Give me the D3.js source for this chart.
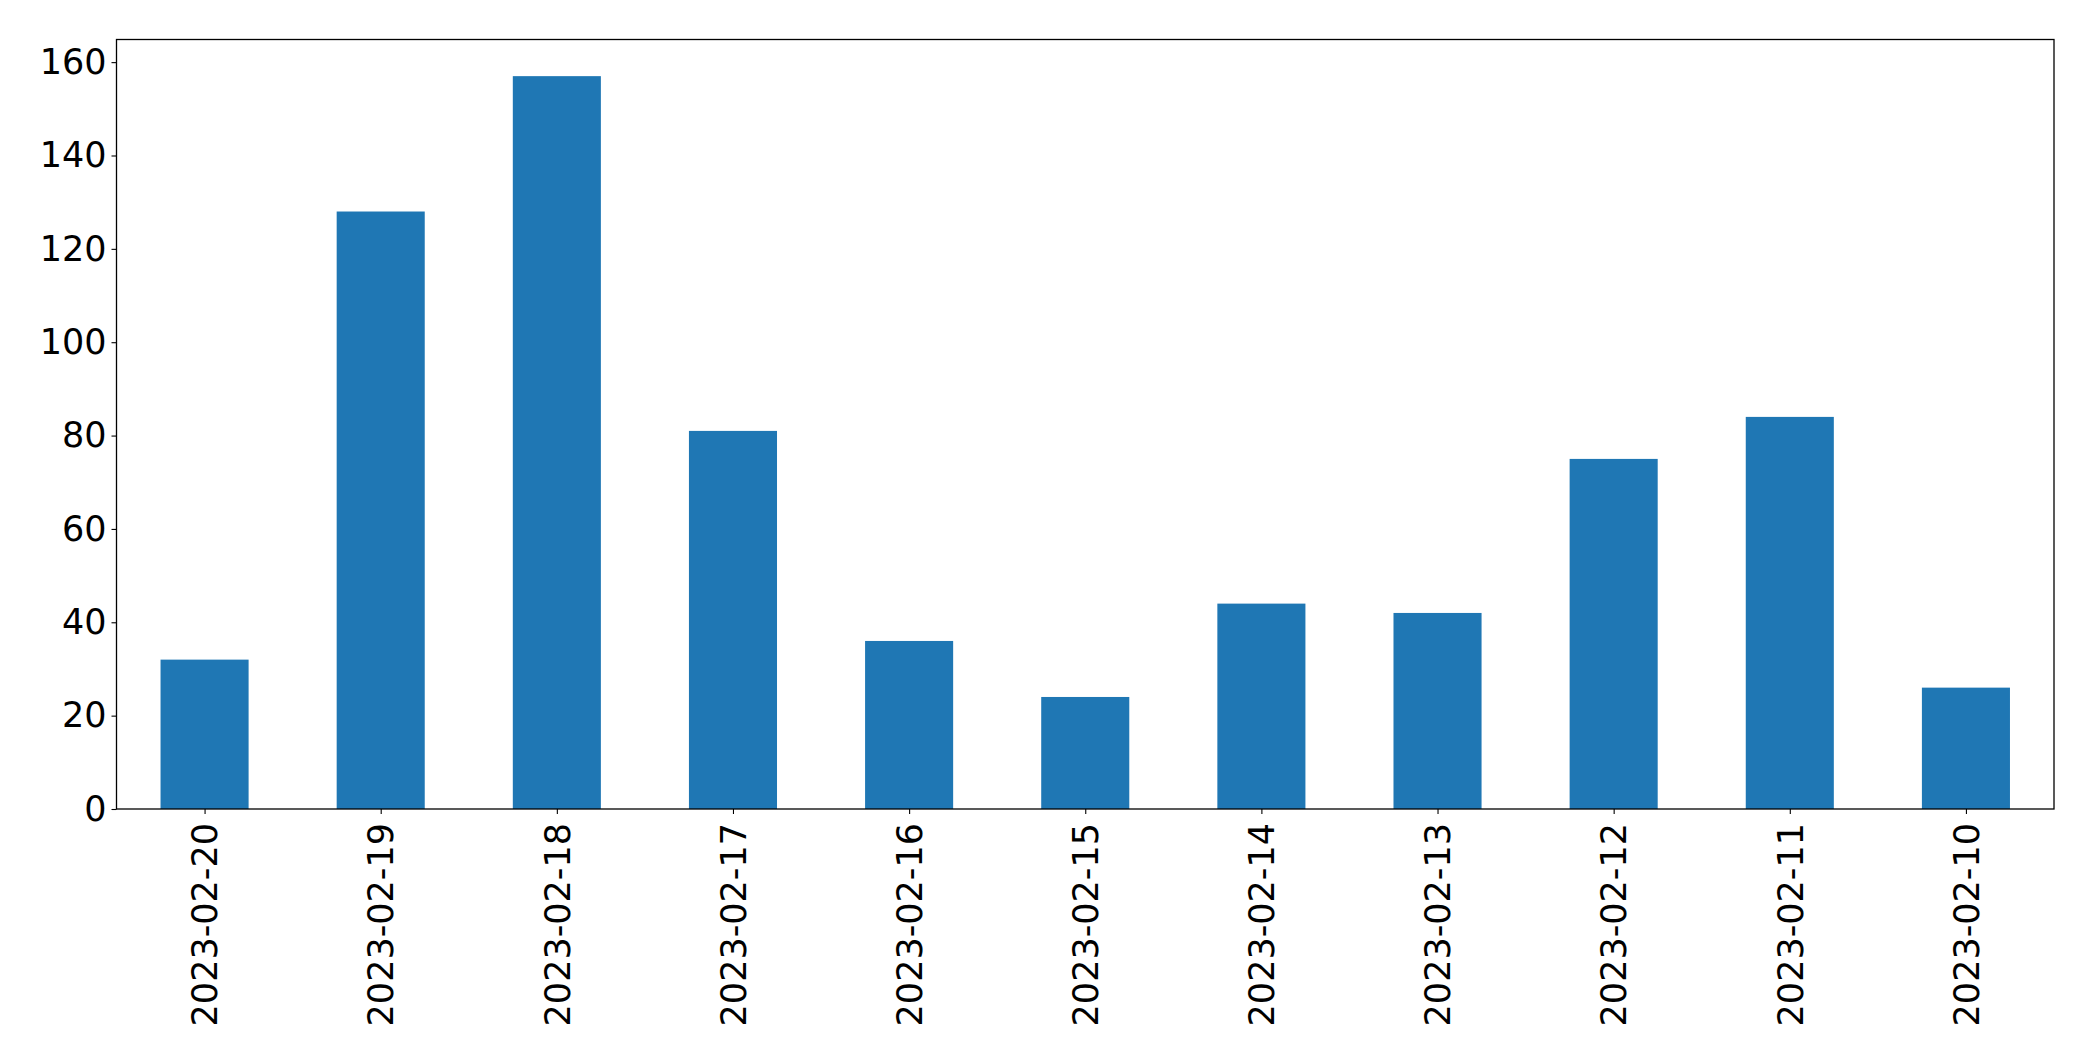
<!DOCTYPE html>
<html>
<head>
<meta charset="utf-8">
<script src="https://cdn.jsdelivr.net/npm/d3@7"></script>
<style>
html,body{margin:0;padding:0;background:#fff;}
svg{display:block;}
text{font-family:"DejaVu Sans",sans-serif;fill:#000;}
</style>
</head>
<body>
<svg id="chart" width="2093" height="1061"></svg>
<script>
const categories = ["2023-02-20","2023-02-19","2023-02-18","2023-02-17","2023-02-16","2023-02-15","2023-02-14","2023-02-13","2023-02-12","2023-02-11","2023-02-10"];
const values = [32,128,157,81,36,24,44,42,75,84,26];
const yTicks = [0,20,40,60,80,100,120,140,160];

const W = 2093, H = 1061;
const m = {left:116.5, right:2054, top:39.5, bottom:809};
const svg = d3.select("#chart");

const x = d3.scaleLinear().domain([-0.5, categories.length - 0.5]).range([m.left, m.right]);
const y = d3.scaleLinear().domain([0, d3.max(values) * 1.05]).range([m.bottom, m.top]);
const barW = x(0.25) - x(0);

svg.append("g").selectAll("rect").data(values).join("rect")
  .attr("x", (d,i) => x(i) - barW)
  .attr("width", barW * 2)
  .attr("y", d => y(d))
  .attr("height", d => y(0) - y(d))
  .attr("fill", "#1f77b4");

const fs = 35;
// y axis
const yAxis = d3.axisLeft(y).tickValues(yTicks).tickSize(5).tickPadding(5).tickFormat(d3.format("d"));
const gy = svg.append("g").attr("transform", `translate(${m.left},0)`).call(yAxis);
gy.select(".domain").remove();
gy.selectAll(".tick line").attr("stroke","#000").attr("stroke-width",1.1);
gy.selectAll(".tick text").style("font-size", fs+"px").style("font-family","DejaVu Sans").attr("fill","#000");

// x axis
const xAxis = d3.axisBottom(x).tickValues(d3.range(categories.length)).tickSize(5).tickFormat(i => categories[i]);
const gx = svg.append("g").attr("transform", `translate(0,${m.bottom})`).call(xAxis);
gx.select(".domain").remove();
gx.selectAll(".tick line").attr("stroke","#000").attr("stroke-width",1.1);
gx.selectAll(".tick text")
  .style("font-size", fs+"px").style("font-family","DejaVu Sans").attr("fill","#000")
  .attr("transform","rotate(-90)")
  .attr("x", -14).attr("y", 0).attr("dy","0.35em")
  .attr("text-anchor","end");

// frame
svg.append("rect")
  .attr("x", m.left).attr("y", m.top)
  .attr("width", m.right - m.left).attr("height", m.bottom - m.top)
  .attr("fill","none").attr("stroke","#000").attr("stroke-width",1.3);
</script>
</body>
</html>
